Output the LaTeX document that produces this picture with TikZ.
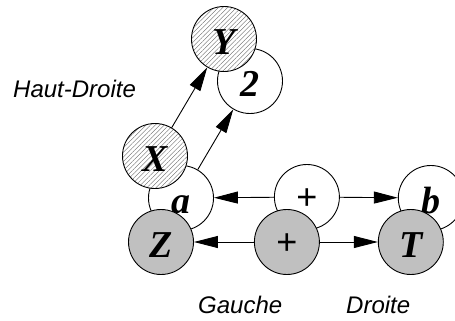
\documentclass[tikz,border=0pt]{standalone}
\usepackage{fontspec}
\setmainfont{Liberation Serif}
\setsansfont{Liberation Sans}
\usetikzlibrary{arrows.meta,positioning,backgrounds,patterns.meta}
\definecolor{palGray}{HTML}{C0C0C0}
\definecolor{palHatch}{HTML}{606060}

\begin{document}
\begin{tikzpicture}[
  x=1pt, y=-1pt,
  var/.style={circle, draw, line width=0.9pt, minimum size=65pt, inner sep=0pt, text height=31pt, text depth=0pt, font=\fontsize{38}{38}\selectfont\bfseries\itshape},
  hidden/.style={var, fill=white},
  seen/.style={var, fill=palGray},
  hatched/.style={var, preaction={fill=white}, pattern={Lines[angle=45, distance=3.2pt, line width=0.35pt]}, pattern color=palHatch},
  op/.style={font=\sffamily\fontsize{36}{36}\selectfont, text height=24pt},
  arrow/.style={-{Triangle[length=24pt, width=12pt]}, line width=0.9pt},
  caption/.style={font=\sffamily\itshape\fontsize{24}{24}\selectfont, inner sep=0pt, anchor=base west},
]
\useasboundingbox (0,0) rectangle (455,321);

% front row and hatched pair
\node[seen] (Z) at (161,242) {Z};
\node[seen, op, right=60pt of Z] (gplus) {+};
\node[seen, right=58pt of gplus] (T) {T};
\node[hatched] (X) at (155,156) {X};
\node[hatched] (Y) at (224,39) {Y};

% circles behind
\begin{scope}[on background layer]
  \node[hidden, xshift=20pt, yshift=44pt] (a) at (Z) {a};
  \node[hidden, op, xshift=20pt, yshift=45pt] (wplus) at (gplus) {+};
  \node[hidden, xshift=20pt, yshift=44pt] (b) at (T) {b};
  \node[hidden, xshift=26pt, yshift=-42pt] (two) at (Y) {2};
\end{scope}

\draw[arrow] (wplus) -- (a);
\draw[arrow] (wplus) -- (b);
\draw[arrow] (gplus) -- (Z);
\draw[arrow] (gplus) -- (T);
\draw[arrow] (X) -- (Y);
\draw[arrow] (a) -- (two);

\node[caption] (hautdroite) at (13,97.5) {Haut-Droite};
\node[caption] (gauche) at (198,313) {Gauche};
\node[caption] (droite) at (346,313) {Droite};
\end{tikzpicture}
\end{document}
